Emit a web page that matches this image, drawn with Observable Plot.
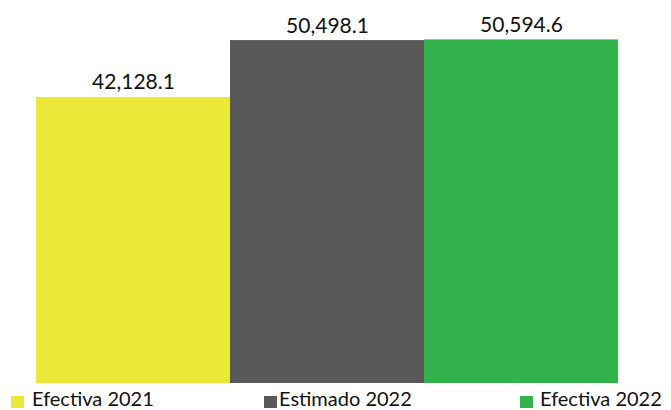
<!DOCTYPE html>
<html>
<head>
<meta charset="utf-8">
<script src="https://cdn.jsdelivr.net/npm/d3@7"></script>
<script src="https://cdn.jsdelivr.net/npm/@observablehq/plot@0.6"></script>
<style>
  html, body { margin: 0; padding: 0; background: #fff; }
  #wrap { position: relative; width: 671px; height: 410px; overflow: hidden; font-family: Lato, "Open Sans", sans-serif; }
  .lg { position: absolute; top: 388px; height: 20px; font-size: 20px; line-height: 20px; color: #111; white-space: nowrap; }
  .sw { position: absolute; top: 396px; width: 13px; height: 12px; }
</style>
</head>
<body>
<div id="wrap"></div>
<script>
const categories = ["Efectiva 2021", "Estimado 2022", "Efectiva 2022"];
const values = [42128.1, 50498.1, 50594.6];
const colors = ["#EBE83A", "#595959", "#33B34C"];
const valueLabels = ["42,128.1", "50,498.1", "50,594.6"];

const data = categories.map((c, i) => ({cat: c, value: values[i], label: valueLabels[i]}));

const chart = Plot.plot({
  width: 671,
  height: 386,
  marginLeft: 35,
  marginRight: 53,
  marginTop: 0,
  marginBottom: 3,
  style: {fontFamily: "Lato, 'Open Sans', sans-serif", background: "#fff"},
  x: {domain: categories, padding: 0, axis: null},
  y: {domain: [0, 56400], axis: null},
  color: {domain: categories, range: colors},
  marks: [
    Plot.barY(data, {x: "cat", y: "value", fill: "cat"}),
    Plot.text(data, {x: "cat", y: "value", text: "label", lineAnchor: "bottom", dy: -8, fontSize: 21, fill: "#111"})
  ]
});

const wrap = document.getElementById("wrap");
wrap.appendChild(chart);

const swX = [11, 264, 520];
const txtX = [32, 279, 540];
categories.forEach((c, i) => {
  const s = document.createElement("div");
  s.className = "sw";
  s.style.left = swX[i] + "px";
  s.style.background = colors[i];
  wrap.appendChild(s);
  const t = document.createElement("div");
  t.className = "lg";
  t.style.left = txtX[i] + "px";
  t.textContent = c;
  wrap.appendChild(t);
});
</script>
</body>
</html>
